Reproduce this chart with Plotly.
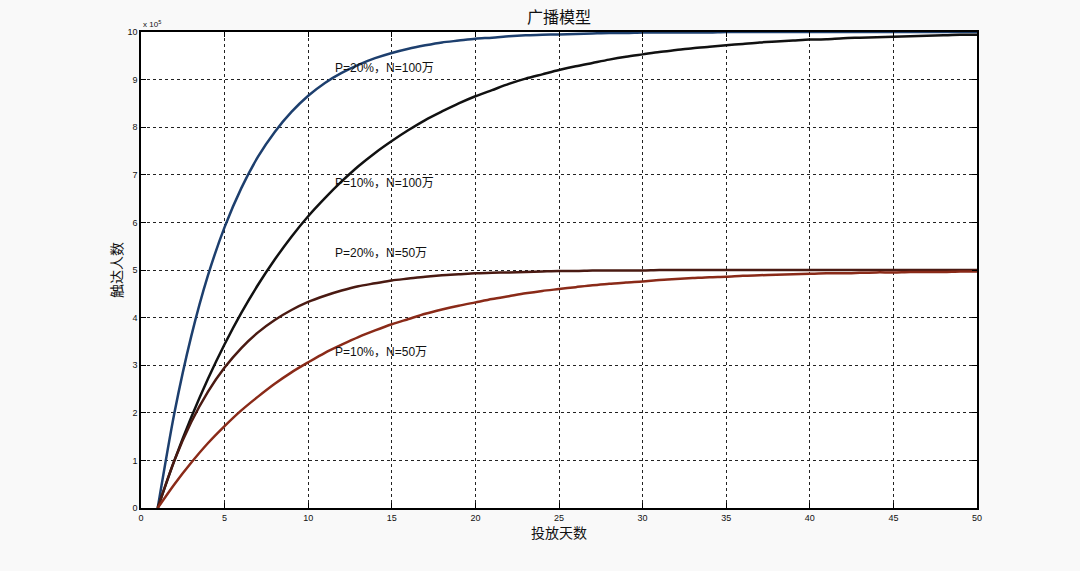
import plotly.graph_objects as go

# Days of placement (投放天数)
days = list(range(1, 51))

# Reached people (触达人数), in units of 10^5
p20_n100 = [0.00, 2.00, 3.60, 4.88, 5.90, 6.72, 7.38, 7.90, 8.32, 8.66,
            8.93, 9.14, 9.31, 9.45, 9.56, 9.65, 9.72, 9.78, 9.82, 9.86,
            9.88, 9.91, 9.93, 9.94, 9.95, 9.96, 9.97, 9.98, 9.98, 9.99,
            9.99, 9.99, 9.99, 9.99, 10.0, 10.0, 10.0, 10.0, 10.0, 10.0,
            10.0, 10.0, 10.0, 10.0, 10.0, 10.0, 10.0, 10.0, 10.0, 10.0]
p10_n100 = [0.00, 1.00, 1.90, 2.71, 3.44, 4.10, 4.69, 5.22, 5.70, 6.13,
            6.51, 6.86, 7.18, 7.46, 7.71, 7.94, 8.15, 8.33, 8.50, 8.65,
            8.78, 8.91, 9.02, 9.11, 9.20, 9.28, 9.35, 9.42, 9.48, 9.53,
            9.58, 9.62, 9.66, 9.69, 9.72, 9.75, 9.78, 9.80, 9.82, 9.84,
            9.85, 9.87, 9.88, 9.89, 9.90, 9.91, 9.92, 9.93, 9.94, 9.94]
p20_n50 = [0.00, 1.00, 1.80, 2.44, 2.95, 3.36, 3.69, 3.95, 4.16, 4.33,
           4.46, 4.57, 4.66, 4.72, 4.78, 4.82, 4.86, 4.89, 4.91, 4.93,
           4.94, 4.95, 4.96, 4.97, 4.98, 4.98, 4.99, 4.99, 4.99, 4.99,
           5.00, 5.00, 5.00, 5.00, 5.00, 5.00, 5.00, 5.00, 5.00, 5.00,
           5.00, 5.00, 5.00, 5.00, 5.00, 5.00, 5.00, 5.00, 5.00, 5.00]
p10_n50 = [0.00, 0.50, 0.95, 1.36, 1.72, 2.05, 2.34, 2.61, 2.85, 3.06,
           3.26, 3.43, 3.59, 3.73, 3.86, 3.97, 4.08, 4.17, 4.25, 4.32,
           4.39, 4.45, 4.51, 4.56, 4.60, 4.64, 4.68, 4.71, 4.74, 4.76,
           4.79, 4.81, 4.83, 4.85, 4.86, 4.88, 4.89, 4.90, 4.91, 4.92,
           4.93, 4.93, 4.94, 4.95, 4.95, 4.96, 4.96, 4.96, 4.97, 4.97]

series_names = ["P=20%，N=100万", "P=10%，N=100万", "P=20%，N=50万", "P=10%，N=50万"]
series_values = [p20_n100, p10_n100, p20_n50, p10_n50]
series_colors = ["#1d3f6e", "#111111", "#4a1a12", "#8a2a18"]
label_x = [11.5, 11.5, 11.5, 11.5]
label_y = [9.25, 6.83, 5.36, 3.28]

x_ticks = [0, 5, 10, 15, 20, 25, 30, 35, 40, 45, 50]
y_ticks = [0, 1, 2, 3, 4, 5, 6, 7, 8, 9, 10]

fig = go.Figure()
for name, vals, col in zip(series_names, series_values, series_colors):
    fig.add_trace(go.Scatter(x=days, y=vals, mode="lines", name=name,
                             line=dict(color=col, width=2.5, shape="spline", smoothing=0.8),
                             showlegend=False))

for name, lx, ly in zip(series_names, label_x, label_y):
    fig.add_annotation(x=lx, y=ly, xref="x", yref="y", text=name, showarrow=False,
                       xanchor="left", yanchor="middle",
                       font=dict(family="Liberation Sans, Noto Sans CJK SC", size=12, color="#111"))

fig.add_annotation(x=0, y=1, xref="paper", yref="paper", text="x 10<sup>5</sup>",
                   showarrow=False, xanchor="left", yanchor="bottom", yshift=1,
                   font=dict(family="Liberation Sans", size=8, color="#111"))

# x-axis title placed just below the tick labels
fig.add_annotation(x=0.5, y=0, xref="paper", yref="paper", text="投放天数",
                   showarrow=False, xanchor="center", yanchor="middle", yshift=-24,
                   font=dict(family="Noto Sans CJK SC", size=14, color="#111"))

axis_common = dict(showline=True, linecolor="black", linewidth=1.5, mirror="ticks",
                   ticks="inside", ticklen=5, tickcolor="black",
                   showgrid=True, gridcolor="#222", griddash="dot", gridwidth=1,
                   zeroline=False,
                   tickfont=dict(family="Liberation Sans", size=9, color="#111"))

fig.update_xaxes(range=[0, 50], tickvals=x_ticks, **axis_common)
fig.update_yaxes(range=[0, 10], tickvals=y_ticks,
                 title=dict(text="触达人数", standoff=2,
                            font=dict(family="Noto Sans CJK SC", size=14, color="#111")),
                 **axis_common)

fig.update_layout(
    width=1080, height=571,
    margin=dict(l=141, r=103, t=32, b=63),
    paper_bgcolor="#f9f9f9", plot_bgcolor="#ffffff",
    title=dict(text="广播模型", x=0.5, xref="paper", y=1 - 17 / 571, yref="container",
               xanchor="center", yanchor="middle",
               font=dict(family="Noto Sans CJK SC", size=16, color="#111")),
)

fig.write_html("out.html")
